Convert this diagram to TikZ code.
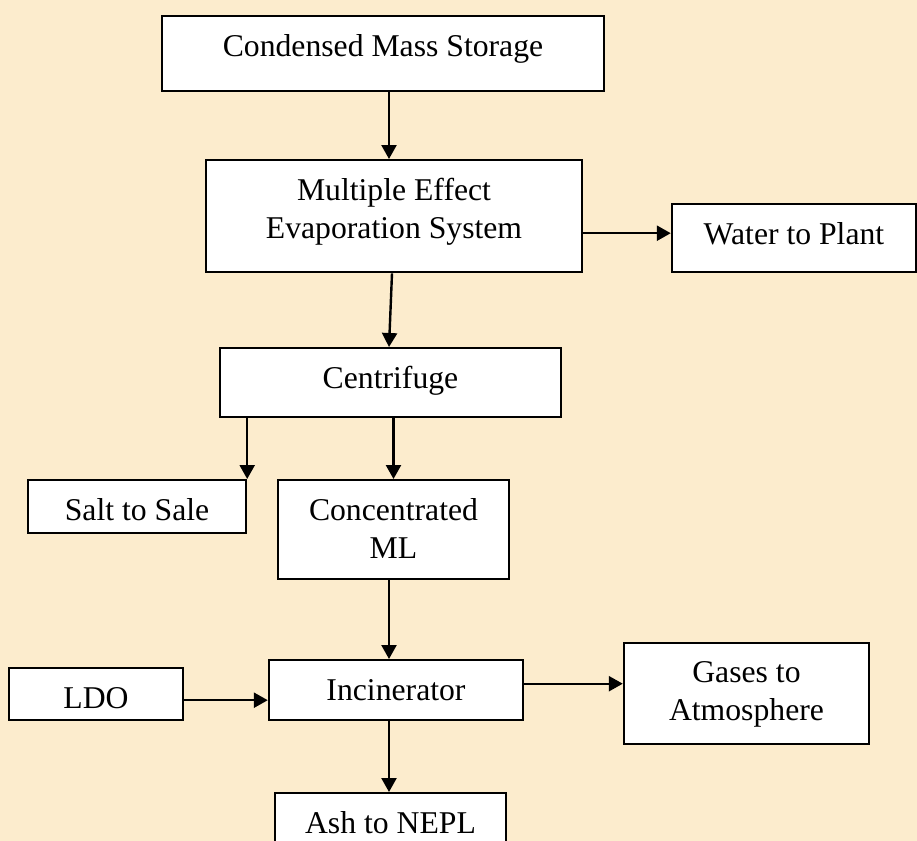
\documentclass[tikz,border=0pt]{standalone}
\usepackage{fontspec}
\setmainfont{Liberation Serif}
\usepackage{xcolor}
\usepackage{tikz}
\usetikzlibrary{arrows.meta}
\definecolor{parchment}{RGB}{252,236,205}

\begin{document}
\begin{tikzpicture}[x=0.5pt,y=-0.5pt,>={Triangle[length=7pt,width=7.5pt]},
box/.style={draw,line width=1.2pt,fill=white,anchor=north,inner xsep=0pt,inner ysep=0pt,
 align=center,text height=20pt,font=\fontsize{15.85}{19}\selectfont},
flow/.style={->,line width=1.2pt}]
\useasboundingbox[fill=parchment](0,0) rectangle (917,841);
\node[box,minimum width=221pt,text depth=17.5pt](cms) at (383,15){Condensed Mass Storage};
\node[box,minimum width=188pt,text height=39pt,text depth=17pt](mees) at (394,159){Multiple Effect\\Evaporation System};
\node[box,minimum width=122pt,text depth=14pt](water) at (794,203){Water to Plant};
\node[box,minimum width=170.5pt,text depth=14.5pt](cent) at (390.5,347){Centrifuge};
\node[box,minimum width=109pt,text depth=6.5pt](salt) at (137,479){Salt to Sale};
\node[box,minimum width=115.5pt,text height=39pt,text depth=10.5pt](cml) at (393.5,479){Concentrated\\ML};
\node[box,minimum width=87pt,text depth=6pt](ldo) at (96,667){LDO};
\node[box,minimum width=127pt,text depth=10pt](inc) at (396,659){Incinerator};
\node[box,minimum width=122.5pt,text height=38.5pt,text depth=12pt](gas) at (746.5,642){Gases to\\Atmosphere};
\node[box,minimum width=115.5pt,text depth=14pt](ash) at (390.5,792){Ash to NEPL};
\draw[flow]([xshift=3pt]cms.south)--([xshift=-2.5pt]mees.north);
\draw[flow]([yshift=-8.5pt]mees.east)--([yshift=2.5pt]water.west);
\draw[flow]([xshift=-1pt]mees.south)--([xshift=-0.75pt]cent.north);
\draw[flow](salt.north east |- cent.south)--(salt.north east);
\draw[flow](cent.south -| cml.north)--(cml.north);
\draw[flow]([xshift=-2.25pt]cml.south)--([xshift=-2.25pt]cml.south |- inc.north);
\draw[flow]([yshift=-3pt]ldo.east)--([yshift=-3pt]ldo.east -| inc.west);
\draw[flow]([yshift=3.25pt]inc.east)--([yshift=3.25pt]inc.east -| gas.west);
\draw[flow]([xshift=-3.5pt]inc.south)--([xshift=-3.5pt]inc.south |- ash.north);
\end{tikzpicture}
\end{document}
